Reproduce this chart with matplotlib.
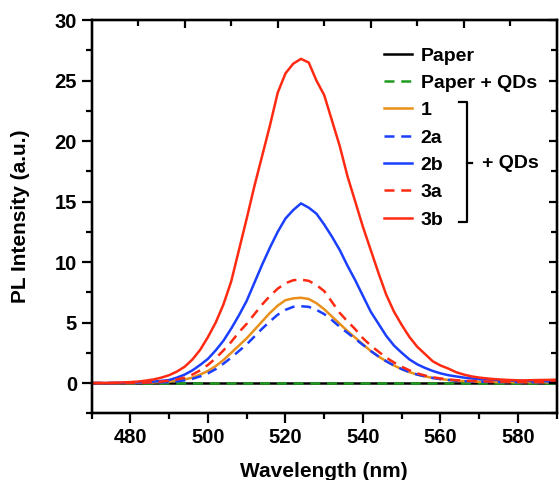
import numpy as np
import matplotlib
matplotlib.use("Agg")
import matplotlib.pyplot as plt
from matplotlib.lines import Line2D

plt.rcParams['font.family'] = ['Liberation Sans', 'DejaVu Sans']
plt.rcParams['font.weight'] = 'bold'

# wavelength grid (nm), 2 nm steps
wl = np.arange(470, 591, 2)

paper = np.zeros(len(wl))
paper_qd = np.zeros(len(wl)) + 0.03

s1 = [0, 0, 0, 0, 0, 0.01, 0.02, 0.03, 0.05, 0.08, 0.12,
      0.2, 0.3, 0.45, 0.7, 1.0, 1.4, 1.9, 2.5, 3.1, 3.7,
      4.4, 5.1, 5.8, 6.4, 6.85, 7.0, 7.05, 6.95, 6.6, 6.1,
      5.5, 4.9, 4.3, 3.75, 3.2, 2.65, 2.2, 1.8, 1.45, 1.15,
      0.9, 0.7, 0.55, 0.42, 0.33, 0.26, 0.2, 0.16, 0.13, 0.11,
      0.1, 0.09, 0.08, 0.08, 0.07, 0.07, 0.07, 0.06, 0.06, 0.06]

s2a = [0, 0, 0, 0, 0, 0.01, 0.02, 0.03, 0.04, 0.06, 0.08,
       0.15, 0.22, 0.35, 0.55, 0.8, 1.15, 1.6, 2.1, 2.65, 3.2,
       3.85, 4.5, 5.1, 5.65, 6.05, 6.3, 6.35, 6.3, 6.05, 5.7,
       5.2, 4.65, 4.15, 3.65, 3.15, 2.65, 2.2, 1.8, 1.45, 1.15,
       0.9, 0.7, 0.55, 0.42, 0.33, 0.26, 0.2, 0.16, 0.13, 0.11,
       0.1, 0.09, 0.08, 0.08, 0.07, 0.07, 0.07, 0.06, 0.06, 0.06]

s2b = [0, 0, 0, 0, 0.02, 0.03, 0.05, 0.08, 0.12, 0.18, 0.25,
       0.45, 0.7, 1.05, 1.5, 2.0, 2.7, 3.5, 4.5, 5.6, 6.8,
       8.3, 9.8, 11.2, 12.5, 13.6, 14.3, 14.85, 14.5, 14.0, 13.1,
       12.1, 11.0, 9.7, 8.5, 7.2, 5.9, 4.9, 3.9, 3.1, 2.5,
       1.95, 1.55, 1.25, 1.0, 0.8, 0.65, 0.55, 0.45, 0.38, 0.32,
       0.28, 0.25, 0.22, 0.2, 0.18, 0.17, 0.16, 0.15, 0.15, 0.15]

s3a = [0, 0, 0, 0, 0, 0.01, 0.02, 0.04, 0.07, 0.12, 0.2,
       0.3, 0.45, 0.7, 1.05, 1.5, 2.05, 2.7, 3.4, 4.2, 4.9,
       5.7, 6.5, 7.2, 7.8, 8.25, 8.5, 8.55, 8.45, 8.1, 7.6,
       6.7, 5.8, 5.1, 4.45, 3.7, 3.1, 2.6, 2.1, 1.7, 1.35,
       1.05, 0.8, 0.62, 0.48, 0.38, 0.3, 0.24, 0.2, 0.17, 0.15,
       0.13, 0.12, 0.1, 0.1, 0.09, 0.08, 0.08, 0.08, 0.08, 0.08]

s3b = [0, 0, 0, 0.02, 0.05, 0.08, 0.12, 0.2, 0.3, 0.45, 0.65,
       0.95, 1.35, 1.95, 2.75, 3.8, 5.0, 6.5, 8.4, 11.0, 13.6,
       16.3, 18.8, 21.3, 24.0, 25.6, 26.4, 26.8, 26.5, 25.0, 23.8,
       21.7, 19.6, 17.1, 15.0, 12.9, 11.0, 9.1, 7.3, 5.9, 4.8,
       3.8, 3.0, 2.4, 1.8, 1.45, 1.2, 0.9, 0.7, 0.55, 0.45,
       0.38, 0.32, 0.28, 0.25, 0.22, 0.22, 0.24, 0.25, 0.26, 0.28]

labels = ['Paper', 'Paper + QDs', '1', '2a', '2b', '3a', '3b']
colors = ['black', '#1E9A1E', '#E8901A', '#1A3FFF', '#1A3FFF', '#FF2A12', '#FF2A12']
styles = ['-', '--', '-', '--', '-', '--', '-']
series = [paper, paper_qd, s1, s2a, s2b, s3a, s3b]

fig = plt.figure(figsize=(5.59, 4.8), dpi=100)
ax = fig.add_axes([0.164, 0.139, 0.832, 0.819])

lw = 1.8
for y, lab, c, ls in zip(series, labels, colors, styles):
    kw = dict(dashes=(4, 2.7)) if ls == '--' else {}
    ax.plot(wl, y, ls, color=c, lw=lw, label=lab, **kw)

ax.set_xlim(470, 590)
ax.set_ylim(-2.5, 30)
ax.set_xticks(np.arange(480, 581, 20))
ax.set_xticks(np.arange(470, 591, 20), minor=True)
ax.set_yticks(np.arange(0, 31, 5))
ax.set_yticks(np.arange(-2.5, 30, 5), minor=True)

for sp in ax.spines.values():
    sp.set_linewidth(1.6)
ax.tick_params(which='major', direction='out', length=7, width=1.6,
               labelsize=14.5, pad=3.5)
ax.tick_params(which='minor', direction='out', length=4, width=1.6)
ax.tick_params(top=False, right=False)

ax.set_xlabel('Wavelength (nm)', fontsize=15, fontweight='bold', labelpad=11)
ax.set_ylabel('PL Intensity (a.u.)', fontsize=15, fontweight='bold', labelpad=18)

# inward ticks on the right and top frame
axr = ax.twinx()
axr.set_ylim(ax.get_ylim())
axr.set_yticks(np.arange(0, 31, 5))
axr.set_yticks(np.arange(-2.5, 30, 5), minor=True)
axr.tick_params(which='major', direction='in', length=6, width=1.6, labelright=False)
axr.tick_params(which='minor', direction='in', length=4, width=1.6)

axt = ax.twiny()
axt.set_xlim(0, 10)
axt.set_xticks([2, 4, 6, 8])
axt.set_xticks([1, 3, 5, 7, 9], minor=True)
axt.tick_params(which='major', direction='in', length=6, width=1.6, labeltop=False)
axt.tick_params(which='minor', direction='in', length=4, width=1.6)
for a in (axr, axt):
    for sp in a.spines.values():
        sp.set_linewidth(1.6)

leg = ax.legend(loc='upper left', bbox_to_anchor=(384 / 559, 1 - 47 / 480),
                bbox_transform=fig.transFigure, frameon=False,
                fontsize=14, handlelength=1.43, handletextpad=0.46,
                labelspacing=0.5, borderpad=0, borderaxespad=0)
for t in leg.get_texts():
    t.set_fontweight('bold')

# bracket grouping the QD samples
W, H = 559.0, 480.0
def fx(px):
    return px / W
def fy(py):
    return 1 - py / H

bx, y0, y1, ym = 466.5, 102, 222, 163
fig.add_artist(Line2D([fx(459), fx(bx), fx(bx), fx(459)],
                      [fy(y0), fy(y0), fy(y1), fy(y1)],
                      color='black', lw=1.6, transform=fig.transFigure))
fig.add_artist(Line2D([fx(bx), fx(472)], [fy(ym), fy(ym)],
                      color='black', lw=1.6, transform=fig.transFigure))
fig.text(fx(482), fy(ym), '+ QDs', fontsize=14, fontweight='bold',
         va='center', ha='left')

fig.savefig('out.png', dpi=100)
